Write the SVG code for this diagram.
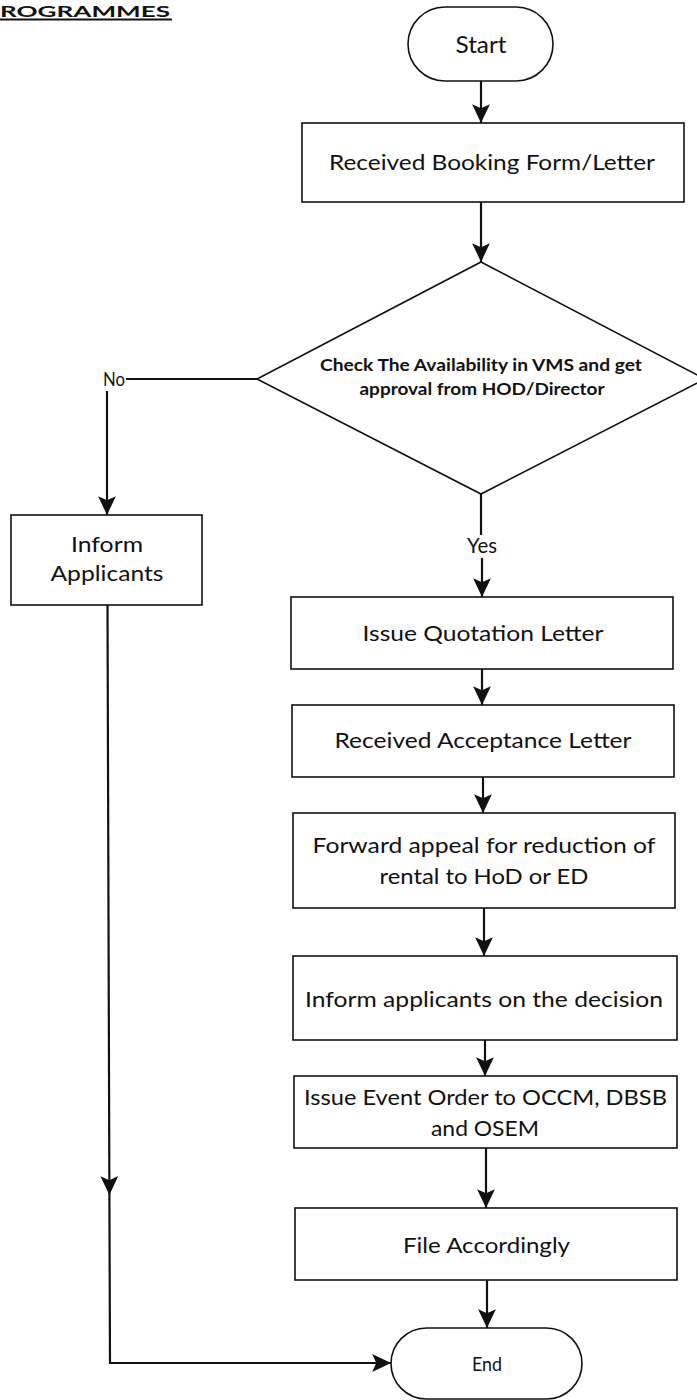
<svg xmlns="http://www.w3.org/2000/svg" width="697" height="1400" viewBox="0 0 697 1400">
<style>
  .bg { fill: #ffffff; }
  .shape { fill: #ffffff; stroke: #111111; stroke-width: 1.6; }
  .conn { fill: none; stroke: #111111; stroke-width: 2.2; }
  .t { font-family: Lato, "Liberation Sans", sans-serif; fill: #111111; text-anchor: middle; }
  .box { font-size: 21px; }
  .dia { font-size: 17px; font-weight: 700; }
  .title { font-family: Lato, "Liberation Sans", sans-serif; font-size: 16px; font-weight: 700; fill: #111111; }
</style>
<defs>
  <marker id="arr" markerUnits="userSpaceOnUse" markerWidth="22" markerHeight="22" viewBox="-19 -10 21 20" refX="0" refY="0" orient="auto">
    <path d="M0,0 L-18,-8.5 L-14,0 L-18,8.5 Z" fill="#111111"/>
  </marker>
</defs>
<rect class="bg" x="0" y="0" width="697" height="1400"/>

<g id="title">
  <text class="title" x="0" y="17" textLength="170" lengthAdjust="spacingAndGlyphs">ROGRAMMES</text>
  <line x1="0" y1="19.5" x2="172" y2="19.5" stroke="#111111" stroke-width="2"/>
</g>

<g id="connectors">
  <line class="conn" x1="481" y1="81" x2="481" y2="123" marker-end="url(#arr)"/>
  <line class="conn" x1="481" y1="202" x2="481" y2="262" marker-end="url(#arr)"/>
  <line class="conn" x1="481" y1="494" x2="481" y2="535"/>
  <line class="conn" x1="482" y1="558" x2="482" y2="597" marker-end="url(#arr)"/>
  <line class="conn" x1="482" y1="669" x2="482" y2="705" marker-end="url(#arr)"/>
  <line class="conn" x1="483" y1="777" x2="483" y2="813" marker-end="url(#arr)"/>
  <line class="conn" x1="484" y1="908" x2="484" y2="956" marker-end="url(#arr)"/>
  <line class="conn" x1="485" y1="1040" x2="485" y2="1076" marker-end="url(#arr)"/>
  <line class="conn" x1="486" y1="1148" x2="486" y2="1208" marker-end="url(#arr)"/>
  <line class="conn" x1="487" y1="1280" x2="487" y2="1328" marker-end="url(#arr)"/>
  <line class="conn" x1="257" y1="379" x2="126" y2="379"/>
  <line class="conn" x1="107" y1="391" x2="107" y2="515" marker-end="url(#arr)"/>
  <path class="conn" d="M107.5,605 L109.4,1195" marker-end="url(#arr)"/>
  <path class="conn" d="M109.4,1195 L110,1363 L391,1363" marker-end="url(#arr)"/>
  <text class="t" x="114" y="386" font-size="19" textLength="22" lengthAdjust="spacingAndGlyphs">No</text>
  <text class="t box" x="482" y="553" textLength="30" lengthAdjust="spacingAndGlyphs">Yes</text>
</g>

<g id="start">
  <rect class="shape" x="408" y="7" width="145" height="74" rx="37" ry="37"/>
  <text class="t" x="481" y="53" font-size="24" textLength="51" lengthAdjust="spacingAndGlyphs">Start</text>
</g>

<g id="received-booking">
  <rect class="shape" x="302" y="123" width="382" height="79"/>
  <text class="t box" x="492" y="170" textLength="326" lengthAdjust="spacingAndGlyphs">Received Booking Form/Letter</text>
</g>

<g id="check-availability">
  <polygon class="shape" points="481,262 705,379 481,494 257,379"/>
  <text class="t dia" x="481" y="371" textLength="322" lengthAdjust="spacingAndGlyphs">Check The Availability in VMS and get</text>
  <text class="t dia" x="482" y="395" textLength="245" lengthAdjust="spacingAndGlyphs">approval from HOD/Director</text>
</g>

<g id="inform-applicants">
  <rect class="shape" x="11" y="515" width="191" height="90"/>
  <text class="t box" x="107" y="552" textLength="72" lengthAdjust="spacingAndGlyphs">Inform</text>
  <text class="t box" x="107" y="581" textLength="113" lengthAdjust="spacingAndGlyphs">Applicants</text>
</g>

<g id="issue-quotation">
  <rect class="shape" x="291" y="597" width="382" height="72"/>
  <text class="t box" x="483" y="641" textLength="241" lengthAdjust="spacingAndGlyphs">Issue Quotation Letter</text>
</g>

<g id="received-acceptance">
  <rect class="shape" x="292" y="705" width="382" height="72"/>
  <text class="t box" x="483" y="748" textLength="297" lengthAdjust="spacingAndGlyphs">Received Acceptance Letter</text>
</g>

<g id="forward-appeal">
  <rect class="shape" x="293" y="813" width="382" height="95"/>
  <text class="t box" x="484" y="853" textLength="343" lengthAdjust="spacingAndGlyphs">Forward appeal for reduction of</text>
  <text class="t box" x="484" y="884" textLength="209" lengthAdjust="spacingAndGlyphs">rental to HoD or ED</text>
</g>

<g id="inform-decision">
  <rect class="shape" x="293" y="956" width="384" height="84"/>
  <text class="t box" x="484" y="1007" textLength="358" lengthAdjust="spacingAndGlyphs">Inform applicants on the decision</text>
</g>

<g id="issue-event-order">
  <rect class="shape" x="294" y="1076" width="383" height="72"/>
  <text class="t box" x="485.5" y="1105" textLength="363" lengthAdjust="spacingAndGlyphs">Issue Event Order to OCCM, DBSB</text>
  <text class="t box" x="485" y="1136" textLength="108" lengthAdjust="spacingAndGlyphs">and OSEM</text>
</g>

<g id="file-accordingly">
  <rect class="shape" x="295" y="1208" width="382" height="72"/>
  <text class="t box" x="486.5" y="1253" textLength="167" lengthAdjust="spacingAndGlyphs">File Accordingly</text>
</g>

<g id="end">
  <rect class="shape" x="391" y="1328" width="191" height="71" rx="35.5" ry="35.5"/>
  <text class="t" x="487" y="1371" font-size="19" textLength="30" lengthAdjust="spacingAndGlyphs">End</text>
</g>
</svg>
